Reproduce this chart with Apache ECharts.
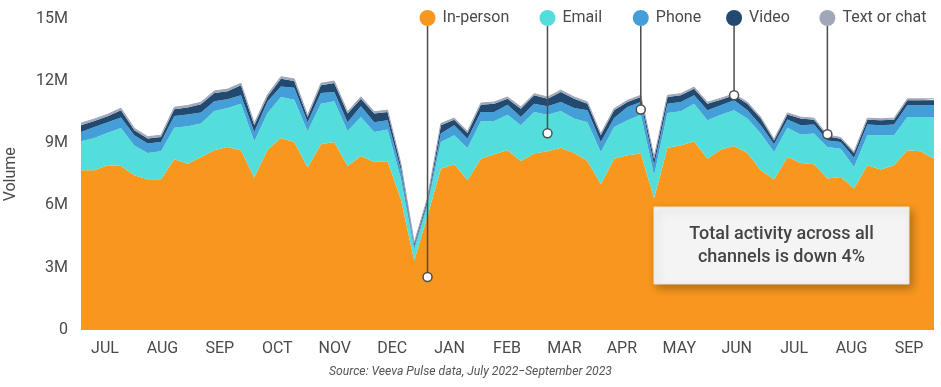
<!DOCTYPE html>
<html><head><meta charset="utf-8">
<script src="https://cdn.jsdelivr.net/npm/echarts@6/dist/echarts.min.js"></script>
<style>html,body{margin:0;padding:0;background:#fff}#c{width:941px;height:387px}</style>
</head><body><div id="c"></div>
<script>
// Weekly categories (week starting)
const weeks = [
'2022-07-04','2022-07-11','2022-07-18','2022-07-25','2022-08-01','2022-08-08','2022-08-15','2022-08-22','2022-08-29','2022-09-05',
'2022-09-12','2022-09-19','2022-09-26','2022-10-03','2022-10-10','2022-10-17','2022-10-24','2022-10-31','2022-11-07','2022-11-14',
'2022-11-21','2022-11-28','2022-12-05','2022-12-12','2022-12-19','2022-12-26','2023-01-02','2023-01-09','2023-01-16','2023-01-23',
'2023-01-30','2023-02-06','2023-02-13','2023-02-20','2023-02-27','2023-03-06','2023-03-13','2023-03-20','2023-03-27','2023-04-03',
'2023-04-10','2023-04-17','2023-04-24','2023-05-01','2023-05-08','2023-05-15','2023-05-22','2023-05-29','2023-06-05','2023-06-12',
'2023-06-19','2023-06-26','2023-07-03','2023-07-10','2023-07-17','2023-07-24','2023-07-31','2023-08-07','2023-08-14','2023-08-21',
'2023-08-28','2023-09-04','2023-09-11','2023-09-18','2023-09-25'];
const monthLabels = ['JUL','AUG','SEP','OCT','NOV','DEC','JAN','FEB','MAR','APR','MAY','JUN','JUL','AUG','SEP'];
const yTicks = [0,3,6,9,12,15]; // millions

// Series values, millions
const inPerson = [7.69,7.69,7.93,7.90,7.45,7.26,7.26,8.22,8.01,8.33, 8.65,8.81,8.65,7.34,8.69,9.25,9.05,7.82,8.94,9.05,
  7.90,8.38,8.09,8.13,6.30,3.33,5.50,7.77,7.98,7.21, 8.25,8.46,8.65,8.14,8.50,8.61,8.78,8.52,8.14,7.02,
  8.25,8.41,8.50,6.35,8.78,8.89,9.09,8.25,8.69,8.86, 8.52,7.69,7.25,8.33,8.04,7.98,7.29,7.37,6.81,7.93,
  7.73,7.93,8.65,8.61,8.25];
const email = [1.40,1.56,1.57,1.83,1.44,1.26,1.35,1.52,1.80,1.61, 1.89,1.88,2.25,1.75,1.76,1.97,2.04,1.75,1.96,1.97,
  1.68,1.88,1.44,1.52,1.00,0.55,0.50,1.28,1.40,1.56, 1.80,1.60,1.72,1.72,2.00,1.76,1.76,1.66,1.87,1.55,
  1.52,1.69,1.87,1.10,1.67,1.64,1.81,1.85,1.68,1.72, 1.66,1.77,1.32,1.41,1.38,1.48,1.52,1.36,1.04,1.45,
  1.65,1.45,1.61,1.65,2.01];
const phone = [0.44,0.52,0.51,0.50,0.49,0.46,0.44,0.56,0.57,0.53, 0.47,0.42,0.40,0.44,0.56,0.51,0.58,0.44,0.51,0.44,
  0.43,0.51,0.48,0.45,0.40,0.15,0.15,0.41,0.48,0.44, 0.45,0.44,0.48,0.40,0.40,0.40,0.44,0.51,0.57,0.48,
  0.44,0.64,0.61,0.50,0.45,0.45,0.40,0.48,0.45,0.48, 0.40,0.40,0.37,0.40,0.44,0.44,0.32,0.32,0.45,0.52,
  0.48,0.52,0.56,0.56,0.56];
const video = [0.33,0.29,0.28,0.35,0.24,0.24,0.24,0.33,0.33,0.40, 0.40,0.39,0.48,0.33,0.24,0.37,0.32,0.25,0.37,0.43,
  0.41,0.37,0.41,0.40,0.24,0.12,0.15,0.40,0.27,0.28, 0.35,0.40,0.29,0.40,0.40,0.37,0.48,0.45,0.32,0.33,
  0.37,0.24,0.24,0.30,0.32,0.32,0.32,0.32,0.27,0.24, 0.32,0.32,0.19,0.24,0.32,0.23,0.20,0.16,0.22,0.23,
  0.24,0.23,0.24,0.24,0.24];
const textChat = [0.10,0.10,0.10,0.10,0.09,0.09,0.09,0.10,0.10,0.10, 0.10,0.10,0.10,0.09,0.09,0.10,0.10,0.09,0.10,0.10,
  0.09,0.09,0.09,0.09,0.07,0.05,0.06,0.08,0.08,0.08, 0.08,0.08,0.08,0.08,0.08,0.08,0.09,0.08,0.08,0.07,
  0.08,0.08,0.08,0.07,0.08,0.08,0.08,0.07,0.07,0.07, 0.07,0.07,0.06,0.07,0.07,0.07,0.06,0.06,0.06,0.07,
  0.07,0.07,0.07,0.07,0.07];

const seriesNames = ['In-person','Email','Phone','Video','Text or chat'];
const seriesColors = ['#F7971E','#53DEDC','#449FD8','#224A70','#A0A8B8'];
// annotation anchors (category index, value in millions) for each legend pointer
const annoIndex = [26,35,42,49,56];
const annoValue = [2.55,9.47,10.62,11.30,9.43];
const noteLines = ['Total activity across all','channels is down 4%'];
const sourceText = 'Source: Veeva Pulse data, July 2022\u2212September 2023';

const FONT = 'Roboto';
const TXT = '#4a4a4a';
const chart = echarts.init(document.getElementById('c'), null, {renderer:'canvas'});
const dataSets = [inPerson,email,phone,video,textChat];

const option = {
  animation:false,
  grid:[
    {left:81, right:7, top:18.5, bottom:57, outerBoundsMode:'none', containLabel:false},
    {left:76.3, right:3.3, top:18.5, bottom:57, outerBoundsMode:'none', containLabel:false}
  ],
  xAxis:[
    {type:'category', gridIndex:0, data:weeks, boundaryGap:false,
     axisLine:{show:false}, axisTick:{show:false}, axisLabel:{show:false}, splitLine:{show:false}},
    {type:'category', gridIndex:1, data:monthLabels, boundaryGap:true,
     axisLine:{show:false}, axisTick:{show:false}, splitLine:{show:false},
     axisLabel:{fontSize:16, color:TXT, fontFamily:FONT, margin:11, interval:0}}
  ],
  yAxis:[
    {type:'value', gridIndex:0, min:0, max:15, interval:3,
     name:'Volume', nameLocation:'middle', nameGap:62, nameRotate:90,
     nameTextStyle:{fontSize:16, color:TXT, fontFamily:FONT},
     axisLine:{show:false}, axisTick:{show:false}, splitLine:{show:false},
     axisLabel:{fontSize:16, color:TXT, fontFamily:FONT, margin:13,
       formatter:v => yTicks.indexOf(v) < 0 ? '' : (v === 0 ? '0' : v + 'M')}},
    {type:'value', gridIndex:1, show:false, min:0, max:15}
  ],
  legend: seriesNames.map((n,k) => ({
    data:[n], left:0, top:0, padding:0, icon:'circle', itemWidth:16, itemHeight:16, selectedMode:false,
    textStyle:{fontSize:16, color:TXT, fontFamily:FONT, padding:[0,0,0,2]}
  })),
  series: seriesNames.map((n,k) => ({
    name:n, type:'line', stack:'total', xAxisIndex:0, yAxisIndex:0,
    data:dataSets[k], symbol:'none', smooth:false,
    color:seriesColors[k],
    lineStyle:{width: k === 4 ? 1 : 0, color:seriesColors[k]},
    areaStyle:{color:seriesColors[k], opacity:1}
  }))
};
chart.setOption(option);

// place legend items + pointer lines using the chart's own scales
const pts = annoIndex.map((ix,k) => chart.convertToPixel({gridIndex:0}, [ix, annoValue[k]]));
const legendY = 10;
const graphics = [];
pts.forEach((p,k) => {
  graphics.push({type:'line', z:50, shape:{x1:p[0], y1:legendY+16, x2:p[0], y2:p[1]-4},
    style:{stroke:'#4d4d4d', lineWidth:1.5}});
  graphics.push({type:'circle', z:51, shape:{cx:p[0], cy:p[1], r:4.5},
    style:{fill:'#fff', stroke:'#4d4d4d', lineWidth:1.5}});
});
graphics.push({type:'rect', z:60, shape:{x:654, y:207, width:255, height:77},
  style:{fill:'#f4f4f4', stroke:'#e6e6e6', lineWidth:1, shadowBlur:8, shadowColor:'rgba(0,0,0,0.28)', shadowOffsetX:3, shadowOffsetY:4}});
graphics.push({type:'text', z:61, x:781.5, y:245.5,
  style:{text:noteLines.join('\n'), fontSize:18, fontWeight:500, fontFamily:FONT, fill:'#444', align:'center', verticalAlign:'middle', lineHeight:23}});
graphics.push({type:'text', z:61, x:470.5, y:371.5,
  style:{text:sourceText, fontSize:12.2, fontStyle:'italic', fontFamily:FONT, fill:'#555', align:'center', verticalAlign:'middle'}});

chart.setOption({
  legend: pts.map(p => ({left: p[0]-8, top: legendY})),
  graphic: graphics
});
</script>
</body></html>
